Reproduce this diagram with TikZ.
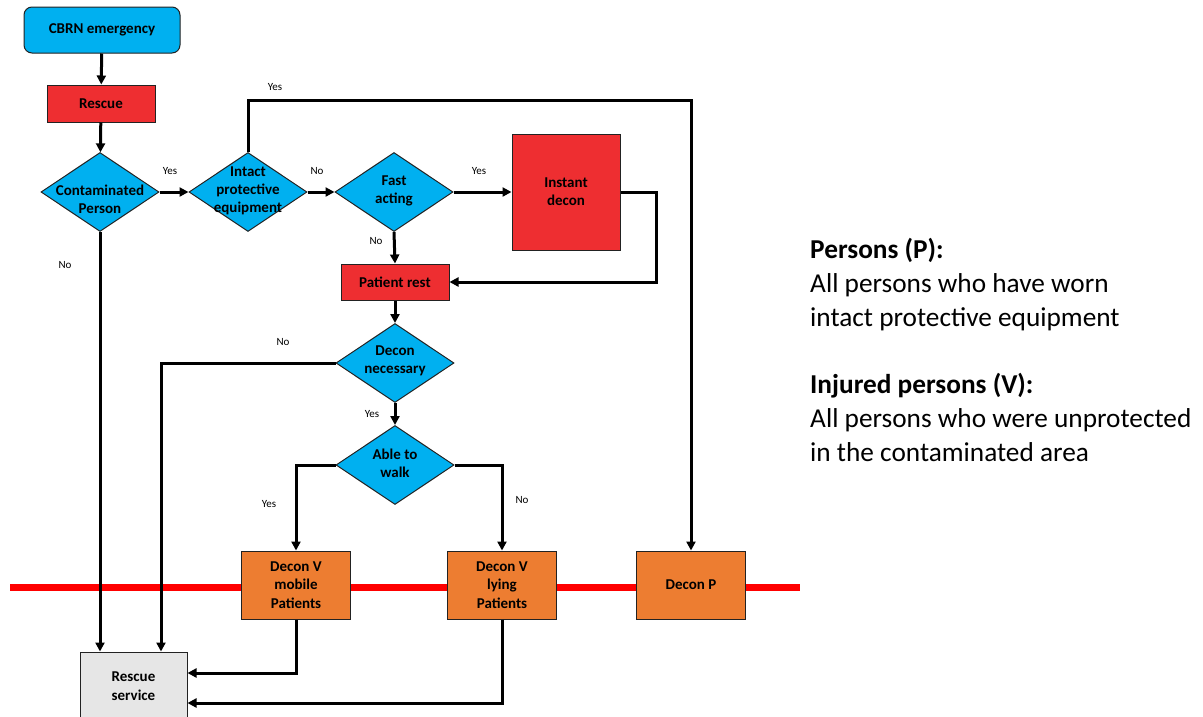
\documentclass[tikz,border=0pt]{standalone}
\usepackage{fontspec}
\setmainfont{Carlito}
\usetikzlibrary{arrows.meta,shapes.geometric}
\definecolor{cyanbox}{HTML}{00B0F0}
\definecolor{redbox}{HTML}{EE2E31}
\definecolor{orangebox}{HTML}{ED7D31}
\definecolor{graybox}{HTML}{E6E6E6}
\definecolor{edge}{HTML}{222222}
\begin{document}
\begin{tikzpicture}[x=1pt,y=-1pt,
  box/.style={draw=edge,line width=1pt,inner sep=0pt,align=center,font=\bfseries\fontsize{15}{18.5}\selectfont},
  startbox/.style={box,fill=cyanbox,rounded corners=8pt,minimum width=156pt,minimum height=46pt},
  redrect/.style={box,fill=redbox},
  orbox/.style={box,fill=orangebox,minimum width=109pt,minimum height=68pt},
  dia/.style={draw=edge,line width=1pt,fill=cyanbox,shape=diamond,inner sep=0pt,minimum width=118pt,minimum height=79pt},
  dtext/.style={align=center,font=\bfseries\fontsize{15}{18}\selectfont},
  conn/.style={line width=3pt,-{Triangle[length=9pt,width=9pt]}},
  lbl/.style={font=\fontsize{11}{12}\selectfont},
  legend/.style={anchor=base west,align=left,inner sep=0pt,font=\fontsize{27.3}{34}\selectfont}
]
\useasboundingbox[fill=white] (0,0) rectangle (1203,716);

% red line
\draw[red,line width=7pt] (10,587) -- (800,587);

% nodes
\node[startbox] (cbrn) at (102,30) {\raisebox{-1.5pt}{CBRN emergency}};
\node[redrect,minimum width=108pt,minimum height=37pt] (rescue) at (101,103.5) {Rescue};
\node[dia] (cont) at (100,192) {};
\node[dtext] at ([yshift=-7pt]cont) {Contaminated\\Person};
\node[dia] (intact) at (248,192) {};
\node[dtext] at ([yshift=1pt]intact) {Intact\\protective\\equipment};
\node[dia] (fast) at (394,192) {};
\node[dtext] at ([yshift=1pt]fast) {Fast\\acting};
\node[redrect,minimum width=108pt,minimum height=116pt] (inst) at (566,192) {};
\node[dtext] at (inst) {Instant\\decon};
\node[redrect,minimum width=108pt,minimum height=36pt] (rest) at (395,282) {Patient rest};
\node[dia] (dn) at (395,363) {};
\node[dtext] at ([yshift=2pt]dn) {Decon\\necessary};
\node[dia] (able) at (395,465) {};
\node[dtext] at ([yshift=2pt]able) {Able to\\walk};
\node[orbox] (dvm) at (296,585) {Decon V\\mobile\\Patients};
\node[orbox] (dvl) at (502,585) {Decon V\\lying\\Patients};
\node[orbox] (dp) at (691,585) {Decon P};
\node[box,fill=graybox,minimum width=107pt,minimum height=68pt] (rs) at (133.5,686) {Rescue\\service};

% connectors
\draw[conn] (cbrn) -- (rescue);
\draw[conn] (rescue) -- (cont);
\draw[conn] (cont.east) -- (intact.west);
\draw[conn] (intact.east) -- (fast.west);
\draw[conn] (fast.east) -- (inst.west);
\draw[conn] (fast.south) -- (rest.north);
\draw[conn] (inst.east) -- ++(36,0) |- (rest.east);
\draw[conn] (intact.north) -- ++(0,-52) -| (dp.north);
\draw[conn] (rest.south) -- (dn.north);
\draw[conn] (dn.south) -- (able.north);
\draw[conn] (able.west) -| (dvm.north);
\draw[conn] (able.east) -| (dvl.north);
\draw[conn] (cont.south) -- (cont.south |- rs.north);
\draw[conn] (dn.west) -| ([xshift=27.5pt]rs.north);
\draw[conn] (dvm.south) |- ([yshift=13pt]rs.east);
\draw[conn] (dvl.south) |- ([yshift=-17pt]rs.east);

% labels
\node[lbl] at (170,171) {Yes};
\node[lbl] at (317,171) {No};
\node[lbl] at (479,171) {Yes};
\node[lbl] at (376,241) {No};
\node[lbl] at (275,87) {Yes};
\node[lbl] at (65,265) {No};
\node[lbl] at (283,342) {No};
\node[lbl] at (372,414) {Yes};
\node[lbl] at (269,504) {Yes};
\node[lbl] at (522,500) {No};

% legend
\node[legend] (leg) at (810,461) {\textbf{Persons (P):}\\All persons who have worn\\intact protective equipment\\[33pt]\textbf{Injured persons (V):}\\All persons who were unprotected\\in the contaminated area};
\end{tikzpicture}
\end{document}
